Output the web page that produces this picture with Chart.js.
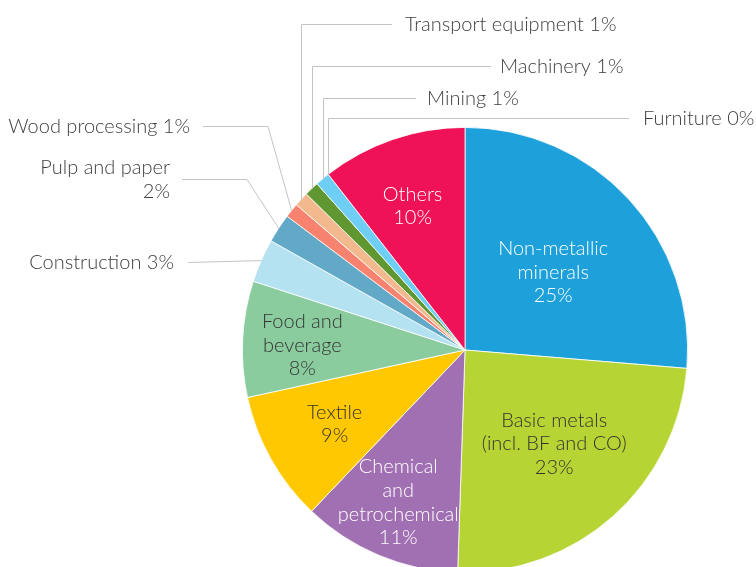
<!DOCTYPE html>
<html>
<head>
<meta charset="utf-8">
<script src="https://cdn.jsdelivr.net/npm/chart.js@4/dist/chart.umd.min.js"></script>
<style>
  html, body { margin: 0; padding: 0; background: #fff; }
  #wrap { width: 756px; height: 567px; overflow: hidden; position: relative; }
  canvas { display: block; }
</style>
</head>
<body>
<div id="wrap"><canvas id="c" width="756" height="600"></canvas></div>
<script>
// Industry shares of energy use (%)
const categories = [
  'Non-metallic minerals', 'Basic metals (incl. BF and CO)', 'Chemical and petrochemical',
  'Textile', 'Food and beverage', 'Construction', 'Pulp and paper', 'Wood processing',
  'Transport equipment', 'Machinery', 'Mining', 'Furniture', 'Others'
];
const shares = [25, 23, 11, 9, 8, 3, 2, 1, 1, 1, 1, 0, 10];

// Text shown for each slice (inside labels are split over lines)
const sliceLabels = [
  ['Non-metallic', 'minerals', '25%'],
  ['Basic metals', '(incl. BF and CO)', '23%'],
  ['Chemical', 'and', 'petrochemical', '11%'],
  ['Textile', '9%'],
  ['Food and', 'beverage', '8%'],
  ['Construction 3%'],
  ['Pulp and paper', '2%'],
  ['Wood processing 1%'],
  ['Transport equipment 1%'],
  ['Machinery 1%'],
  ['Mining 1%'],
  ['Furniture 0%'],
  ['Others', '10%']
];

const colors = [
  '#1EA1DA', '#B6D433', '#A070B2', '#FFC800', '#8BCC9E', '#B4E2F1', '#61A9C7',
  '#F7826F', '#F2B88E', '#619731', '#6FCEF4', '#9FD7EE', '#EF1257'
];

// Label placement: inside labels sit along the slice bisector,
// small slices get call-outs with leader lines.
const FONT = '300 20px Lato, "Source Sans Pro", "Open Sans", sans-serif';
const LINE_H = 23.7;
const layout = {
  0:  { type: 'inside', r: 0.53, dAng: 1,  color: '#ffffff' },
  1:  { type: 'inside', r: 0.58, dAng: -2, color: '#333333' },
  2:  { type: 'inside', r: 0.745, dAng: 1, color: '#ffffff' },
  3:  { type: 'inside', r: 0.672, dAng: 0, color: '#333333' },
  4:  { type: 'inside', r: 0.731, dAng: -1, color: '#333333' },
  5:  { type: 'left', y: 262, textRight: 174, gap: 14, elbowX: null },
  6:  { type: 'left', y: 179, textRight: 170, gap: 12, elbowX: 247 },
  7:  { type: 'left', y: 126, textRight: 190, gap: 13, elbowX: 268 },
  8:  { type: 'top', y: 24,  textX: 405, gap: 13 },
  9:  { type: 'top', y: 66,  textX: 500, gap: 9 },
  10: { type: 'top', y: 98,  textX: 427, gap: 11 },
  11: { type: 'top', y: 118, textX: 643, gap: 14 },
  12: { type: 'inside', r: 0.69, dAng: -1, color: '#ffffff' }
};

const CAP_HALF = 7; // half of the cap height, used to centre text on a y position

const labelPlugin = {
  id: 'sliceLabels',
  afterDatasetsDraw(chart) {
    const ctx = chart.ctx;
    const arcs = chart.getDatasetMeta(0).data;
    ctx.save();
    ctx.font = FONT;
    arcs.forEach((arc, i) => {
      const spec = layout[i];
      const lines = sliceLabels[i];
      const p = arc.getProps(['x', 'y', 'startAngle', 'endAngle', 'outerRadius'], true);
      const mid = (p.startAngle + p.endAngle) / 2;
      if (spec.type === 'inside') {
        const a = mid + spec.dAng * Math.PI / 180;
        const cx = p.x + Math.cos(a) * p.outerRadius * spec.r;
        const cy = p.y + Math.sin(a) * p.outerRadius * spec.r;
        ctx.fillStyle = spec.color;
        ctx.textAlign = 'center';
        ctx.textBaseline = 'alphabetic';
        const top = cy - (lines.length - 1) * LINE_H / 2;
        lines.forEach((t, k) => ctx.fillText(t, cx, top + k * LINE_H + CAP_HALF));
        return;
      }
      // leader line from the slice's outer edge
      const ex = p.x + Math.cos(mid) * p.outerRadius;
      const ey = p.y + Math.sin(mid) * p.outerRadius;
      ctx.strokeStyle = '#c4c4c4';
      ctx.lineWidth = 1;
      ctx.beginPath();
      if (spec.type === 'top') {
        const vx = Math.round(ex) + 0.5;
        const hy = Math.round(spec.y) + 0.5;
        ctx.moveTo(vx, ey);
        ctx.lineTo(vx, hy);
        ctx.lineTo(spec.textX - spec.gap, hy);
        ctx.stroke();
        ctx.fillStyle = '#404040';
        ctx.textAlign = 'left';
        ctx.textBaseline = 'alphabetic';
        ctx.fillText(lines[0], spec.textX, spec.y + CAP_HALF);
      } else {
        const hy = Math.round(spec.y) + 0.5;
        ctx.moveTo(spec.textRight + spec.gap, hy);
        if (spec.elbowX !== null) ctx.lineTo(spec.elbowX, hy);
        ctx.lineTo(ex, ey);
        ctx.stroke();
        ctx.fillStyle = '#404040';
        ctx.textAlign = 'right';
        ctx.textBaseline = 'alphabetic';
        const top = spec.y - (lines.length - 1) * 24 / 2;
        lines.forEach((t, k) => ctx.fillText(t, spec.textRight, top + k * 24 + CAP_HALF));
      }
    });
    ctx.restore();
  }
};

new Chart(document.getElementById('c'), {
  type: 'pie',
  data: {
    labels: categories,
    datasets: [{
      data: shares,
      backgroundColor: colors,
      borderColor: '#ffffff',
      borderWidth: shares.map(v => (v > 0 ? 0.8 : 0))
    }]
  },
  options: {
    responsive: false,
    devicePixelRatio: 1,
    animation: false,
    layout: { padding: { left: 242, right: 68, top: 127, bottom: 27 } },
    plugins: {
      legend: { display: false },
      tooltip: { enabled: false }
    }
  },
  plugins: [labelPlugin]
});
</script>
</body>
</html>
